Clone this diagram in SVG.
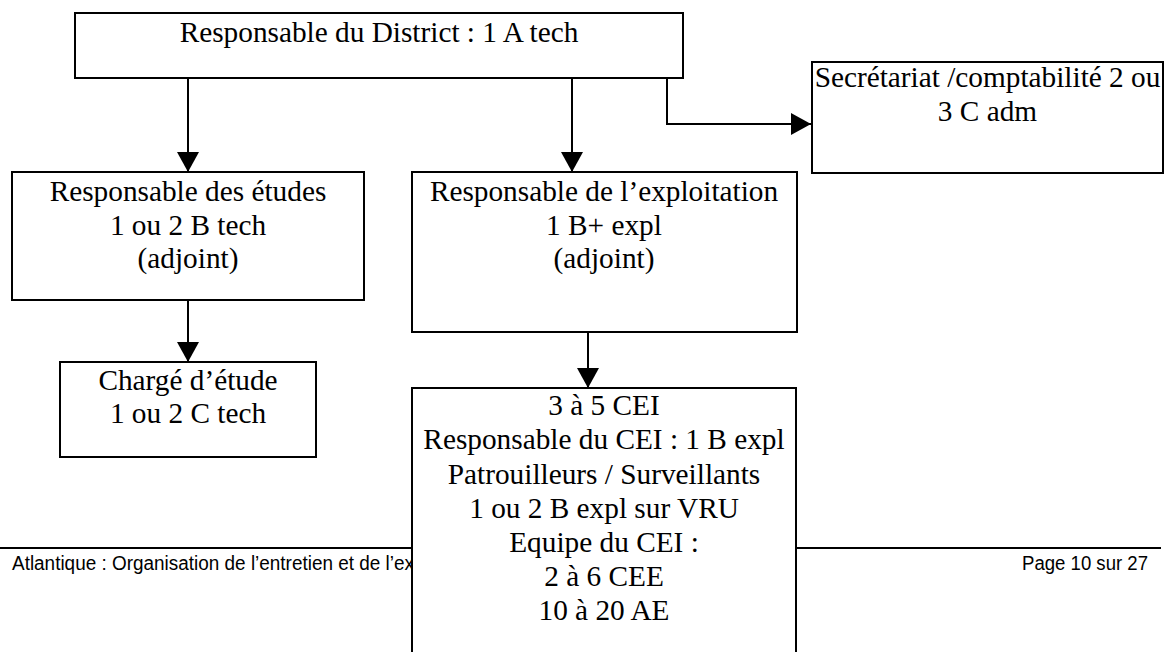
<svg xmlns="http://www.w3.org/2000/svg" width="1169" height="652" viewBox="0 0 1169 652">
<style>
.box{fill:#fff;stroke:#000;stroke-width:2}
.t{font-family:"Liberation Serif","Times New Roman",serif;font-size:29.3px;fill:#000;text-anchor:middle}
.f{font-family:"Liberation Sans",Arial,sans-serif;font-size:19.5px;fill:#000}
.c{fill:none;stroke:#000;stroke-width:2}
</style>
<defs>
<marker id="ah" viewBox="0 0 20 22" refX="20" refY="11" markerWidth="20" markerHeight="22" markerUnits="userSpaceOnUse" orient="auto">
<path d="M0,0 L20,11 L0,22 Z" fill="#000"/>
</marker>
</defs>
<g id="footer">
<line x1="0" y1="548" x2="1161" y2="548" stroke="#000" stroke-width="2"/>
<text class="f" x="12" y="570" textLength="402" lengthAdjust="spacingAndGlyphs">Atlantique : Organisation de l’entretien et de l’ex</text>
<text class="f" x="1022" y="570" textLength="126" lengthAdjust="spacingAndGlyphs">Page 10 sur 27</text>
</g>
<g id="connectors">
<line class="c" x1="188" y1="78" x2="188" y2="172" marker-end="url(#ah)"/>
<line class="c" x1="572" y1="78" x2="572" y2="172" marker-end="url(#ah)"/>
<polyline class="c" points="667,78 667,124 811,124" marker-end="url(#ah)"/>
<line class="c" x1="188" y1="298" x2="188" y2="362" marker-end="url(#ah)"/>
<line class="c" x1="588" y1="325" x2="588" y2="388" marker-end="url(#ah)"/>
</g>
<g id="district">
<rect class="box" x="75" y="13" width="608" height="65"/>
<text class="t" x="379" y="42">Responsable du District : 1 A tech</text>
</g>
<g id="secretariat">
<rect class="box" x="812" y="62" width="351" height="111"/>
<text class="t" x="987.5" y="87">Secrétariat /comptabilité 2 ou</text>
<text class="t" x="987.5" y="121">3 C adm</text>
</g>
<g id="etudes">
<rect class="box" x="12" y="172" width="352" height="128"/>
<text class="t" x="188" y="201">Responsable des études</text>
<text class="t" x="188" y="235">1 ou 2 B tech</text>
<text class="t" x="188" y="268">(adjoint)</text>
</g>
<g id="exploitation">
<rect class="box" x="412" y="172" width="385" height="160"/>
<text class="t" x="604" y="201">Responsable de l’exploitation</text>
<text class="t" x="604" y="235">1 B+ expl</text>
<text class="t" x="604" y="268">(adjoint)</text>
</g>
<g id="charge">
<rect class="box" x="60" y="362" width="256" height="95"/>
<text class="t" x="188" y="390">Chargé d’étude</text>
<text class="t" x="188" y="423">1 ou 2 C tech</text>
</g>
<g id="cei">
<rect class="box" x="412" y="388" width="384" height="280"/>
<text class="t" x="604" y="415">3 à 5 CEI</text>
<text class="t" x="604" y="449">Responsable du CEI : 1 B expl</text>
<text class="t" x="604" y="484">Patrouilleurs / Surveillants</text>
<text class="t" x="604" y="518">1 ou 2 B expl sur VRU</text>
<text class="t" x="604" y="552">Equipe du CEI :</text>
<text class="t" x="604" y="586">2 à 6 CEE</text>
<text class="t" x="604" y="620">10 à 20 AE</text>
</g>
</svg>
